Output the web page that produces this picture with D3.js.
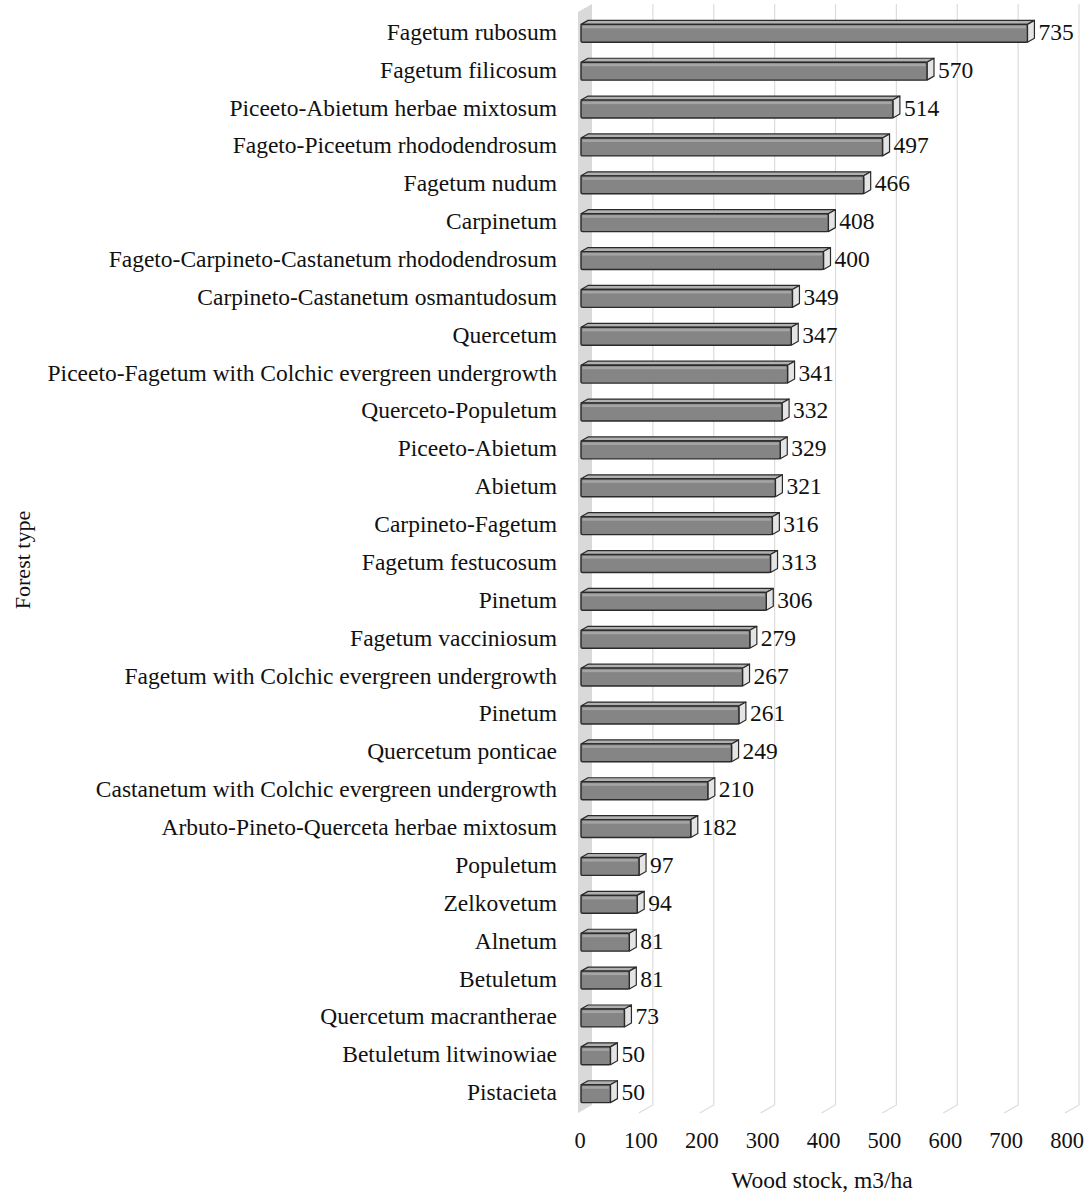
<!DOCTYPE html>
<html><head><meta charset="utf-8">
<script src="https://cdn.jsdelivr.net/npm/d3@7"></script>
<style>body{margin:0;background:#fff}svg{display:block}text{font-family:"Liberation Serif","Times New Roman",serif;fill:#111}</style>
</head><body>
<script>
const categories = ["Fagetum rubosum","Fagetum filicosum","Piceeto-Abietum herbae mixtosum","Fageto-Piceetum rhododendrosum","Fagetum nudum","Carpinetum","Fageto-Carpineto-Castanetum rhododendrosum","Carpineto-Castanetum osmantudosum","Quercetum","Piceeto-Fagetum with Colchic evergreen undergrowth","Querceto-Populetum","Piceeto-Abietum","Abietum","Carpineto-Fagetum","Fagetum festucosum","Pinetum","Fagetum vacciniosum","Fagetum with Colchic evergreen undergrowth","Pinetum","Quercetum ponticae","Castanetum with Colchic evergreen undergrowth","Arbuto-Pineto-Querceta herbae mixtosum","Populetum","Zelkovetum","Alnetum","Betuletum","Quercetum macrantherae","Betuletum litwinowiae","Pistacieta"];
const values = [735,570,514,497,466,408,400,349,347,341,332,329,321,316,313,306,279,267,261,249,210,182,97,94,81,81,73,50,50];
const xTicks = [0,100,200,300,400,500,600,700,800];
const xTitle = "Wood stock, m3/ha";
const yTitle = "Forest type";

const W=1086,H=1193;
const svg=d3.select("body").append("svg").attr("width",W).attr("height",H);
const x=d3.scaleLinear().domain([0,800]).range([578,1065]);
const y=d3.scaleBand().domain(d3.range(categories.length)).range([11,1110]).paddingInner(0.58).paddingOuter(0.3);
const DX=14, DY=-8;           // wall depth
const BX=7, BY=-4;            // bar depth
const wallTop=12, floorY=1113;

svg.append("path")
  .attr("d",`M${x(0)},${wallTop}L${x(0)+DX},${wallTop+DY}L${x(0)+DX},${floorY+DY}L${x(0)},${floorY}Z`)
  .attr("fill","#d9d9d9");
const g=svg.append("g");
xTicks.forEach(t=>{
  if(t===0) return;
  g.append("path")
   .attr("d",`M${x(t)+DX},${wallTop+DY}L${x(t)+DX},${floorY+DY}L${x(t)},${floorY}`)
   .attr("fill","none").attr("stroke","#dcdcdc").attr("stroke-width",1.2);
});

const bars=svg.append("g").selectAll("g").data(values).join("g");
bars.each(function(v,i){
  const s=d3.select(this);
  const x0=x(0)+3, x1=x(v)+2, y0=y(i)+2, h=y.bandwidth()+2, y1=y0+h;
  s.append("path").attr("d",`M${x0},${y0}L${x0+BX},${y0+BY}L${x1+BX},${y0+BY}L${x1},${y0}Z`)
    .attr("fill","#b0b0b0").attr("stroke","#2a2a2a").attr("stroke-width",1.2).attr("stroke-linejoin","round");
  s.append("path").attr("d",`M${x1},${y0}L${x1+BX},${y0+BY}L${x1+BX},${y1+BY}L${x1},${y1}Z`)
    .attr("fill","#e4e4e4").attr("stroke","#2a2a2a").attr("stroke-width",1.2).attr("stroke-linejoin","round");
  s.append("rect").attr("x",x0).attr("y",y0).attr("width",x1-x0).attr("height",h)
    .attr("fill","#858585").attr("stroke","#2a2a2a").attr("stroke-width",1.4).attr("rx",1.5);
  s.append("rect").attr("x",x0+1.5).attr("y",y0+1.5).attr("width",Math.max(0,x1-x0-3)).attr("height",2.5)
    .attr("fill","#a5a5a5");
  s.append("text").attr("x",x1+BX+4).attr("y",y0+h/2+BY/2).attr("dy","0.36em")
    .attr("font-size",23.5).text(v);
});

svg.append("g").selectAll("text").data(categories).join("text")
  .attr("x",557).attr("y",(d,i)=>y(i)+y.bandwidth()/2+1).attr("dy","0.36em")
  .attr("text-anchor","end").attr("font-size",23.5).text(d=>d);

svg.append("g").selectAll("text").data(xTicks).join("text")
  .attr("x",d=>x(d)+2).attr("y",1140).attr("dy","0.36em").attr("text-anchor","middle")
  .attr("font-size",22.5).text(d=>d);

svg.append("text").attr("x",822).attr("y",1180).attr("dy","0.36em").attr("text-anchor","middle")
  .attr("font-size",23.5).text(xTitle);
svg.append("text").attr("transform","translate(22,560) rotate(-90)").attr("dy","0.36em")
  .attr("text-anchor","middle").attr("font-size",22).text(yTitle);
</script>
</body></html>
